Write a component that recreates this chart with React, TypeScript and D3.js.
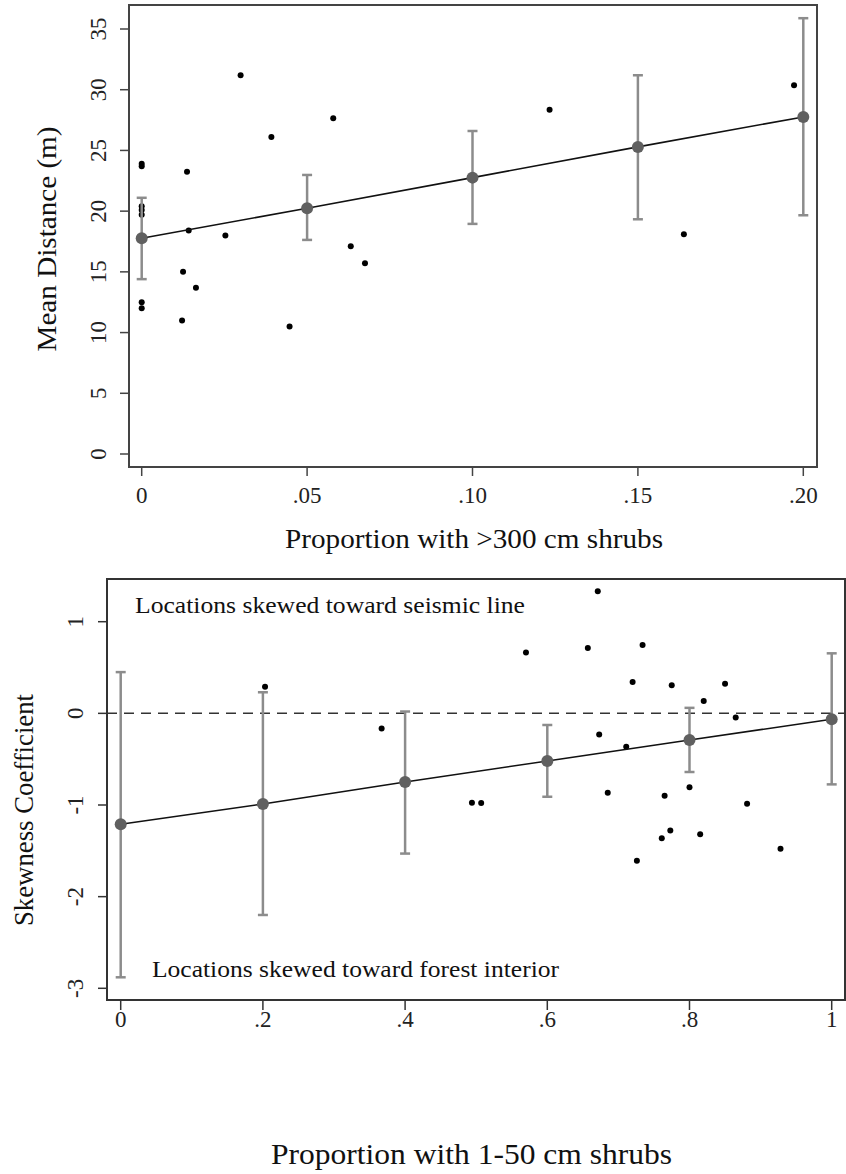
import React from "react";
import * as d3 from "d3";

// ---------- Top panel data ----------
const topPointX = [0, 0, 0, 0, 0, 0, 0, 0.0137, 0.0142, 0.0125, 0.0164, 0.0122, 0.0299, 0.0253, 0.0392, 0.0447, 0.0579, 0.0632, 0.0675, 0.1233, 0.1639, 0.1972];
const topPointY = [23.9, 23.7, 20.4, 20.1, 19.7, 12.5, 12.0, 23.25, 18.4, 15.0, 13.7, 11.0, 31.2, 18.0, 26.1, 10.5, 27.65, 17.1, 15.7, 28.36, 18.1, 30.37];
const topFitX = [0, 0.05, 0.1, 0.15, 0.2];
const topFitMean = [17.77, 20.24, 22.76, 25.29, 27.76];
const topFitLow = [14.4, 17.63, 18.95, 19.33, 19.66];
const topFitHigh = [21.1, 22.98, 26.6, 31.19, 35.89];
const topXTicks = [0, 0.05, 0.1, 0.15, 0.2];
const topXTickLabels = ["0", ".05", ".10", ".15", ".20"];
const topYTicks = [0, 5, 10, 15, 20, 25, 30, 35];

// ---------- Bottom panel data ----------
const botPointX = [0.203, 0.367, 0.57, 0.671, 0.657, 0.734, 0.72, 0.775, 0.85, 0.82, 0.865, 0.673, 0.711, 0.685, 0.494, 0.507, 0.765, 0.8, 0.881, 0.773, 0.761, 0.815, 0.726, 0.928];
const botPointY = [0.29, -0.164, 0.663, 1.332, 0.714, 0.746, 0.343, 0.306, 0.324, 0.135, -0.044, -0.232, -0.364, -0.866, -0.975, -0.978, -0.9, -0.807, -0.986, -1.277, -1.364, -1.32, -1.608, -1.477];
const botFitX = [0, 0.2, 0.4, 0.6, 0.8, 1];
const botFitMean = [-1.21, -0.99, -0.75, -0.52, -0.29, -0.065];
const botFitLow = [-2.88, -2.2, -1.53, -0.91, -0.64, -0.775];
const botFitHigh = [0.45, 0.23, 0.02, -0.127, 0.06, 0.655];
const botXTicks = [0, 0.2, 0.4, 0.6, 0.8, 1];
const botXTickLabels = ["0", ".2", ".4", ".6", ".8", "1"];
const botYTicks = [-3, -2, -1, 0, 1];

const FONT = "'Liberation Serif', Tinos, 'Times New Roman', Times, serif";
const BAR = "#8c8c8c";
const MEAN = "#606060";

export default function App() {
  // Top scales
  const tx = d3.scaleLinear().domain([0, 0.2]).range([141.7, 803.3]);
  const ty = d3.scaleLinear().domain([0, 35]).range([454, 29]);
  const tFrame = { x0: 129, y0: 5, x1: 817, y1: 467 };
  // Bottom scales
  const bx = d3.scaleLinear().domain([0, 1]).range([120.7, 831.7]);
  const by = d3.scaleLinear().domain([-3, 1]).range([988.3, 621.7]);
  const bFrame = { x0: 107, y0: 579, x1: 845, y1: 1000 };

  const line = (xs: number[], ys: number[], sx: any, sy: any) =>
    d3.line<number>().x((_, i) => sx(xs[i])).y((v) => sy(v))(ys) || "";

  const errorBars = (xs: number[], lo: number[], hi: number[], sx: any, sy: any, key: string) =>
    xs.map((x, i) => (
      <g key={key + i} stroke={BAR} strokeWidth={2.5}>
        <line x1={sx(x)} x2={sx(x)} y1={sy(lo[i])} y2={sy(hi[i])} />
        <line x1={sx(x) - 5} x2={sx(x) + 5} y1={sy(lo[i])} y2={sy(lo[i])} />
        <line x1={sx(x) - 5} x2={sx(x) + 5} y1={sy(hi[i])} y2={sy(hi[i])} />
      </g>
    ));

  return (
    <svg
      width={846}
      height={1174}
      style={{ position: "absolute", left: 0, top: 0, background: "#fff", fontFamily: FONT }}
    >
      <rect x={0} y={0} width={846} height={1174} fill="#fff" />

      {/* ================= TOP PANEL ================= */}
      <rect x={tFrame.x0} y={tFrame.y0} width={tFrame.x1 - tFrame.x0} height={tFrame.y1 - tFrame.y0} fill="none" stroke="#444" strokeWidth={2} />
      {topYTicks.map((t) => (
        <g key={"tyt" + t}>
          <line x1={tFrame.x0 - 9} x2={tFrame.x0} y1={ty(t)} y2={ty(t)} stroke="#444" strokeWidth={1.5} />
          <text transform={`translate(106,${ty(t)}) rotate(-90)`} textAnchor="middle" fontSize={23} fill="#222">{t}</text>
        </g>
      ))}
      {topXTicks.map((t, i) => (
        <g key={"txt" + t}>
          <line x1={tx(t)} x2={tx(t)} y1={tFrame.y1} y2={tFrame.y1 + 9} stroke="#444" strokeWidth={1.5} />
          <text x={tx(t)} y={502.5} textAnchor="middle" fontSize={23} fill="#222">{topXTickLabels[i]}</text>
        </g>
      ))}
      <text transform="translate(56,239) rotate(-90)" textAnchor="middle" fontSize={28} fill="#111" textLength={225} lengthAdjust="spacingAndGlyphs">Mean Distance (m)</text>
      <text x={474} y={548} textAnchor="middle" fontSize={27} fill="#111" textLength={378} lengthAdjust="spacingAndGlyphs">Proportion with &gt;300 cm shrubs</text>

      {topPointX.map((x, i) => (
        <circle key={"tp" + i} cx={tx(x)} cy={ty(topPointY[i])} r={3} fill="#000" />
      ))}
      {errorBars(topFitX, topFitLow, topFitHigh, tx, ty, "teb")}
      <path d={line(topFitX, topFitMean, tx, ty)} fill="none" stroke="#111" strokeWidth={1.6} />
      {topFitX.map((x, i) => (
        <circle key={"tm" + i} cx={tx(x)} cy={ty(topFitMean[i])} r={6} fill={MEAN} />
      ))}

      {/* ================= BOTTOM PANEL ================= */}
      <rect x={bFrame.x0} y={bFrame.y0} width={bFrame.x1 - bFrame.x0} height={bFrame.y1 - bFrame.y0} fill="none" stroke="#333" strokeWidth={2} />
      {botYTicks.map((t) => (
        <g key={"byt" + t}>
          <line x1={bFrame.x0 - 9} x2={bFrame.x0} y1={by(t)} y2={by(t)} stroke="#333" strokeWidth={1.5} />
          <text transform={`translate(83,${by(t)}) rotate(-90)`} textAnchor="middle" fontSize={23} fill="#222">{t}</text>
        </g>
      ))}
      {botXTicks.map((t, i) => (
        <g key={"bxt" + t}>
          <line x1={bx(t)} x2={bx(t)} y1={bFrame.y1} y2={bFrame.y1 + 10} stroke="#333" strokeWidth={1.5} />
          <text x={bx(t)} y={1026.5} textAnchor="middle" fontSize={23} fill="#222">{botXTickLabels[i]}</text>
        </g>
      ))}
      <text transform="translate(33,810) rotate(-90)" textAnchor="middle" fontSize={28} fill="#111" textLength={232} lengthAdjust="spacingAndGlyphs">Skewness Coefficient</text>
      <text x={471.5} y={1164} textAnchor="middle" fontSize={30} fill="#111" textLength={401} lengthAdjust="spacingAndGlyphs">Proportion with 1-50 cm shrubs</text>

      <text x={135} y={613} fontSize={23} fill="#111" textLength={390} lengthAdjust="spacingAndGlyphs">Locations skewed toward seismic line</text>
      <text x={152} y={977} fontSize={23} fill="#111" textLength={407} lengthAdjust="spacingAndGlyphs">Locations skewed toward forest interior</text>

      <line x1={bFrame.x0} x2={bFrame.x1} y1={by(0)} y2={by(0)} stroke="#333" strokeWidth={1.5} strokeDasharray="10,7" />

      {botPointX.map((x, i) => (
        <circle key={"bp" + i} cx={bx(x)} cy={by(botPointY[i])} r={3} fill="#000" />
      ))}
      {errorBars(botFitX, botFitLow, botFitHigh, bx, by, "beb")}
      <path d={line(botFitX, botFitMean, bx, by)} fill="none" stroke="#111" strokeWidth={1.5} />
      {botFitX.map((x, i) => (
        <circle key={"bm" + i} cx={bx(x)} cy={by(botFitMean[i])} r={6} fill={MEAN} />
      ))}
    </svg>
  );
}
